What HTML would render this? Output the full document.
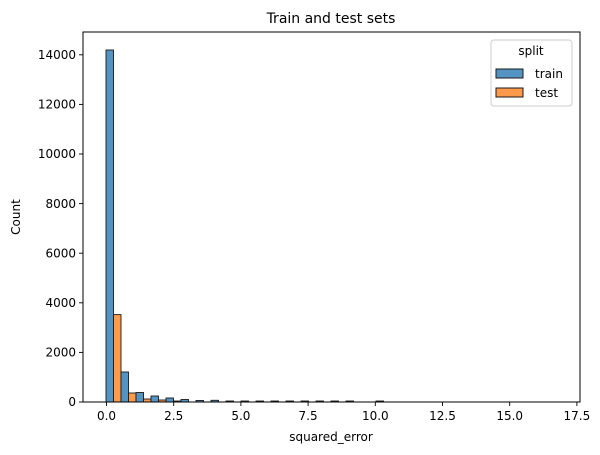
<!DOCTYPE html>
<html><head><meta charset="utf-8"><style>body{margin:0;background:#fff}svg{display:block;font-family:"DejaVu Sans","Liberation Sans",sans-serif}</style></head><body>
<svg width="600" height="455" viewBox="0 0 600 455">
<text x="331" y="23" font-size="14" text-anchor="middle">Train and test sets</text>
<g stroke="#1a1a1a" stroke-width="0.9">
<rect x="106" y="50" width="7.5" height="352" fill="#5394c3"/>
<rect x="113.5" y="314.6" width="7.5" height="87.4" fill="#ff9a4a"/>
<rect x="121" y="372" width="7.5" height="30" fill="#5394c3"/>
<rect x="128.5" y="393" width="7.5" height="9" fill="#ff9a4a"/>
<rect x="136" y="392.5" width="7.5" height="9.5" fill="#5394c3"/>
<rect x="143.5" y="399" width="7.5" height="3" fill="#ff9a4a"/>
<rect x="151" y="396" width="7.5" height="6" fill="#5394c3"/>
<rect x="158.5" y="400" width="7.5" height="2" fill="#ff9a4a"/>
<rect x="166" y="398" width="7.5" height="4" fill="#5394c3"/>
<rect x="173.5" y="401" width="7.5" height="1" fill="#ff9a4a"/>
<rect x="181" y="399.5" width="7.5" height="2.5" fill="#5394c3"/>
<rect x="196" y="400.5" width="7.5" height="1.5" fill="#5394c3"/>
<rect x="211" y="400.3" width="7.5" height="1.7" fill="#5394c3"/>
<rect x="226" y="401" width="7.5" height="1" fill="#5394c3"/>
<rect x="241" y="401" width="7.5" height="1" fill="#5394c3"/>
<rect x="256" y="401" width="7.5" height="1" fill="#5394c3"/>
<rect x="271" y="401" width="7.5" height="1" fill="#5394c3"/>
<rect x="286" y="401" width="7.5" height="1" fill="#5394c3"/>
<rect x="301" y="401" width="7.5" height="1" fill="#5394c3"/>
<rect x="316" y="401" width="7.5" height="1" fill="#5394c3"/>
<rect x="331" y="401" width="7.5" height="1" fill="#5394c3"/>
<rect x="346" y="401" width="7.5" height="1" fill="#5394c3"/>
<rect x="376" y="401" width="7.5" height="1" fill="#5394c3"/>
</g>
<rect x="83" y="32" width="497" height="370" fill="none" stroke="#000" stroke-width="1"/>
<g stroke="#000" stroke-width="0.9">
<line x1="79" x2="83" y1="402" y2="402"/><line x1="79" x2="83" y1="352.4" y2="352.4"/><line x1="79" x2="83" y1="302.8" y2="302.8"/><line x1="79" x2="83" y1="253.2" y2="253.2"/><line x1="79" x2="83" y1="203.6" y2="203.6"/><line x1="79" x2="83" y1="154" y2="154"/><line x1="79" x2="83" y1="104.4" y2="104.4"/><line x1="79" x2="83" y1="54.8" y2="54.8"/>
<line x1="106.5" x2="106.5" y1="402" y2="406"/><line x1="173.7" x2="173.7" y1="402" y2="406"/><line x1="240.9" x2="240.9" y1="402" y2="406"/><line x1="308.1" x2="308.1" y1="402" y2="406"/><line x1="375.3" x2="375.3" y1="402" y2="406"/><line x1="442.5" x2="442.5" y1="402" y2="406"/><line x1="509.7" x2="509.7" y1="402" y2="406"/><line x1="576.9" x2="576.9" y1="402" y2="406"/>
</g>
<g font-size="12" text-anchor="end">
<text x="76" y="406">0</text><text x="76" y="356.5">2000</text><text x="76" y="307">4000</text><text x="76" y="257.5">6000</text><text x="76" y="208">8000</text><text x="76" y="158">10000</text><text x="76" y="108.5">12000</text><text x="76" y="59">14000</text>
</g>
<g font-size="12" text-anchor="middle">
<text x="106.5" y="420">0.0</text><text x="173.7" y="420">2.5</text><text x="240.9" y="420">5.0</text><text x="308.1" y="420">7.5</text><text x="375.3" y="420">10.0</text><text x="442.5" y="420">12.5</text><text x="509.7" y="420">15.0</text><text x="576.9" y="420">17.5</text>
<text x="331" y="441">squared_error</text>
<text x="20" y="217" transform="rotate(-90 20 217)">Count</text>
</g>
<rect x="491" y="40" width="81" height="66" rx="3" fill="#fff" stroke="#ccc" stroke-width="1"/>
<text x="531" y="55" font-size="12" text-anchor="middle">split</text>
<rect x="496" y="69" width="27" height="9" fill="#5394c3" stroke="#1a1a1a"/>
<rect x="496" y="88" width="27" height="9" fill="#ff9a4a" stroke="#1a1a1a"/>
<text x="535" y="78" font-size="12">train</text>
<text x="535" y="97" font-size="12">test</text>
</svg>
</body></html>
